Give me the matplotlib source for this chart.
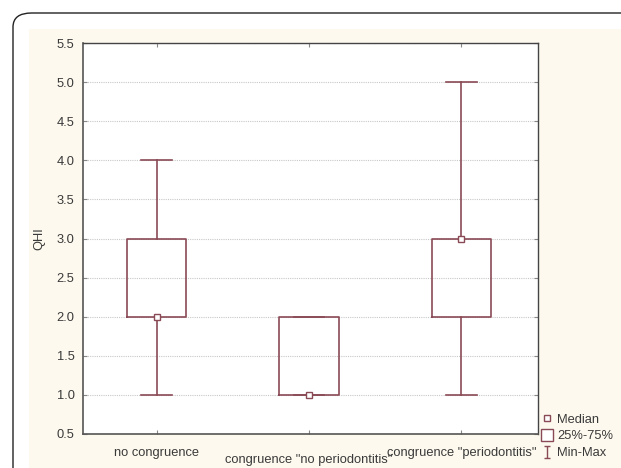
import matplotlib.pyplot as plt
from matplotlib.lines import Line2D
from matplotlib.patches import FancyBboxPatch, Rectangle
from matplotlib.path import Path

categories = ["no congruence", 'congruence "no periodontitis"', 'congruence "periodontitis"']
mins = [1.0, 1.0, 1.0]
q1s = [2.0, 1.0, 2.0]
medians = [2.0, 1.0, 3.0]
q3s = [3.0, 2.0, 3.0]
maxs = [4.0, 2.0, 5.0]
yticks = [0.5, 1.0, 1.5, 2.0, 2.5, 3.0, 3.5, 4.0, 4.5, 5.0, 5.5]

BOX = "#8a4a55"
TEXT = "#3a3a3a"
CREAM = "#fdf9ee"
FS = 9.3

plt.rcParams["font.family"] = ["Liberation Sans", "DejaVu Sans"]

fig = plt.figure(figsize=(6.21, 4.68), dpi=100)
W, H = 621, 468

# outer rounded frame and cream panel
fig.patches.append(FancyBboxPatch((13 / W, -0.2), 1.2, 1.2 - 13 / H,
                                  boxstyle="round,pad=0,rounding_size=0.03",
                                  transform=fig.transFigure, facecolor="white",
                                  edgecolor="#222222", linewidth=1.0, zorder=-2))
fig.patches.append(Rectangle((29 / W, 0), 1, 1 - 29 / H, transform=fig.transFigure,
                             facecolor=CREAM, edgecolor="none", zorder=-1))

ax = fig.add_axes([83 / W, 1 - 434 / H, (538 - 83) / W, (434 - 43) / H])
ax.set_zorder(1)
ax.set_facecolor("white")

stats = []
for i in range(len(categories)):
    stats.append({"med": medians[i], "q1": q1s[i], "q3": q3s[i],
                  "whislo": mins[i], "whishi": maxs[i], "fliers": []})

line_kw = {"color": BOX, "linewidth": 1.2}
ax.bxp(stats, positions=range(len(categories)), widths=0.39, capwidths=0.2,
       showfliers=False, boxprops=line_kw, whiskerprops=line_kw, capprops=line_kw,
       medianprops={"linestyle": "none"}, manage_ticks=False, zorder=3)
ax.plot(range(len(categories)), medians, linestyle="none", marker="s", markersize=5,
        markerfacecolor="white", markeredgecolor=BOX, markeredgewidth=1.0, zorder=4)

ax.set_xlim(-0.484, 2.503)
ax.set_ylim(0.5, 5.5)
ax.set_yticks(yticks)
ax.set_yticklabels([f"{v:.1f}" for v in yticks])
ax.set_xticks(range(len(categories)))
ax.set_xticklabels([])
for i, lab in enumerate(categories):
    ax.annotate(lab, xy=(i, 0), xycoords=("data", "axes fraction"),
                xytext=(0, -9.3 if i != 1 else -14.5), textcoords="offset points",
                ha="center", va="top", fontsize=FS, color=TEXT)

ax.yaxis.grid(True, linestyle=(0, (1, 1)), color="#c8c8c8", linewidth=0.8)
ax.set_axisbelow(True)
ax.tick_params(axis="both", direction="in", length=3, color="#888888",
               labelsize=FS, labelcolor=TEXT, top=True, right=True, pad=6)
for side in ["left", "bottom"]:
    ax.spines[side].set_color("#555555")
    ax.spines[side].set_linewidth(1.2)
for side in ["top", "right"]:
    ax.spines[side].set_color("#444444")
    ax.spines[side].set_linewidth(1.0)
ax.set_ylabel("QHI", fontsize=FS, color=TEXT, labelpad=8)

ibeam = Path([(-0.5, -1), (0.5, -1), (0, -1), (0, 1), (-0.5, 1), (0.5, 1)],
             [Path.MOVETO, Path.LINETO, Path.MOVETO, Path.LINETO, Path.MOVETO, Path.LINETO])
handles = [
    Line2D([], [], linestyle="none", marker="s", markersize=4.5, markerfacecolor="white",
           markeredgecolor=BOX, markeredgewidth=1.0),
    Line2D([], [], linestyle="none", marker="s", markersize=9, markerfacecolor="white",
           markeredgecolor=BOX, markeredgewidth=1.0),
    Line2D([], [], linestyle="none", marker=ibeam, markersize=9, markerfacecolor="none",
           markeredgecolor=BOX, markeredgewidth=1.0),
]
leg = ax.legend(handles, ["Median", "25%-75%", "Min-Max"], loc="lower left",
                bbox_to_anchor=(1.008, -0.064), frameon=False, fontsize=FS,
                handlelength=0.9, handletextpad=0.3, labelspacing=0.35,
                borderaxespad=0, borderpad=0)
for t in leg.get_texts():
    t.set_color(TEXT)

fig.savefig("out.png", dpi=100, facecolor="white")
